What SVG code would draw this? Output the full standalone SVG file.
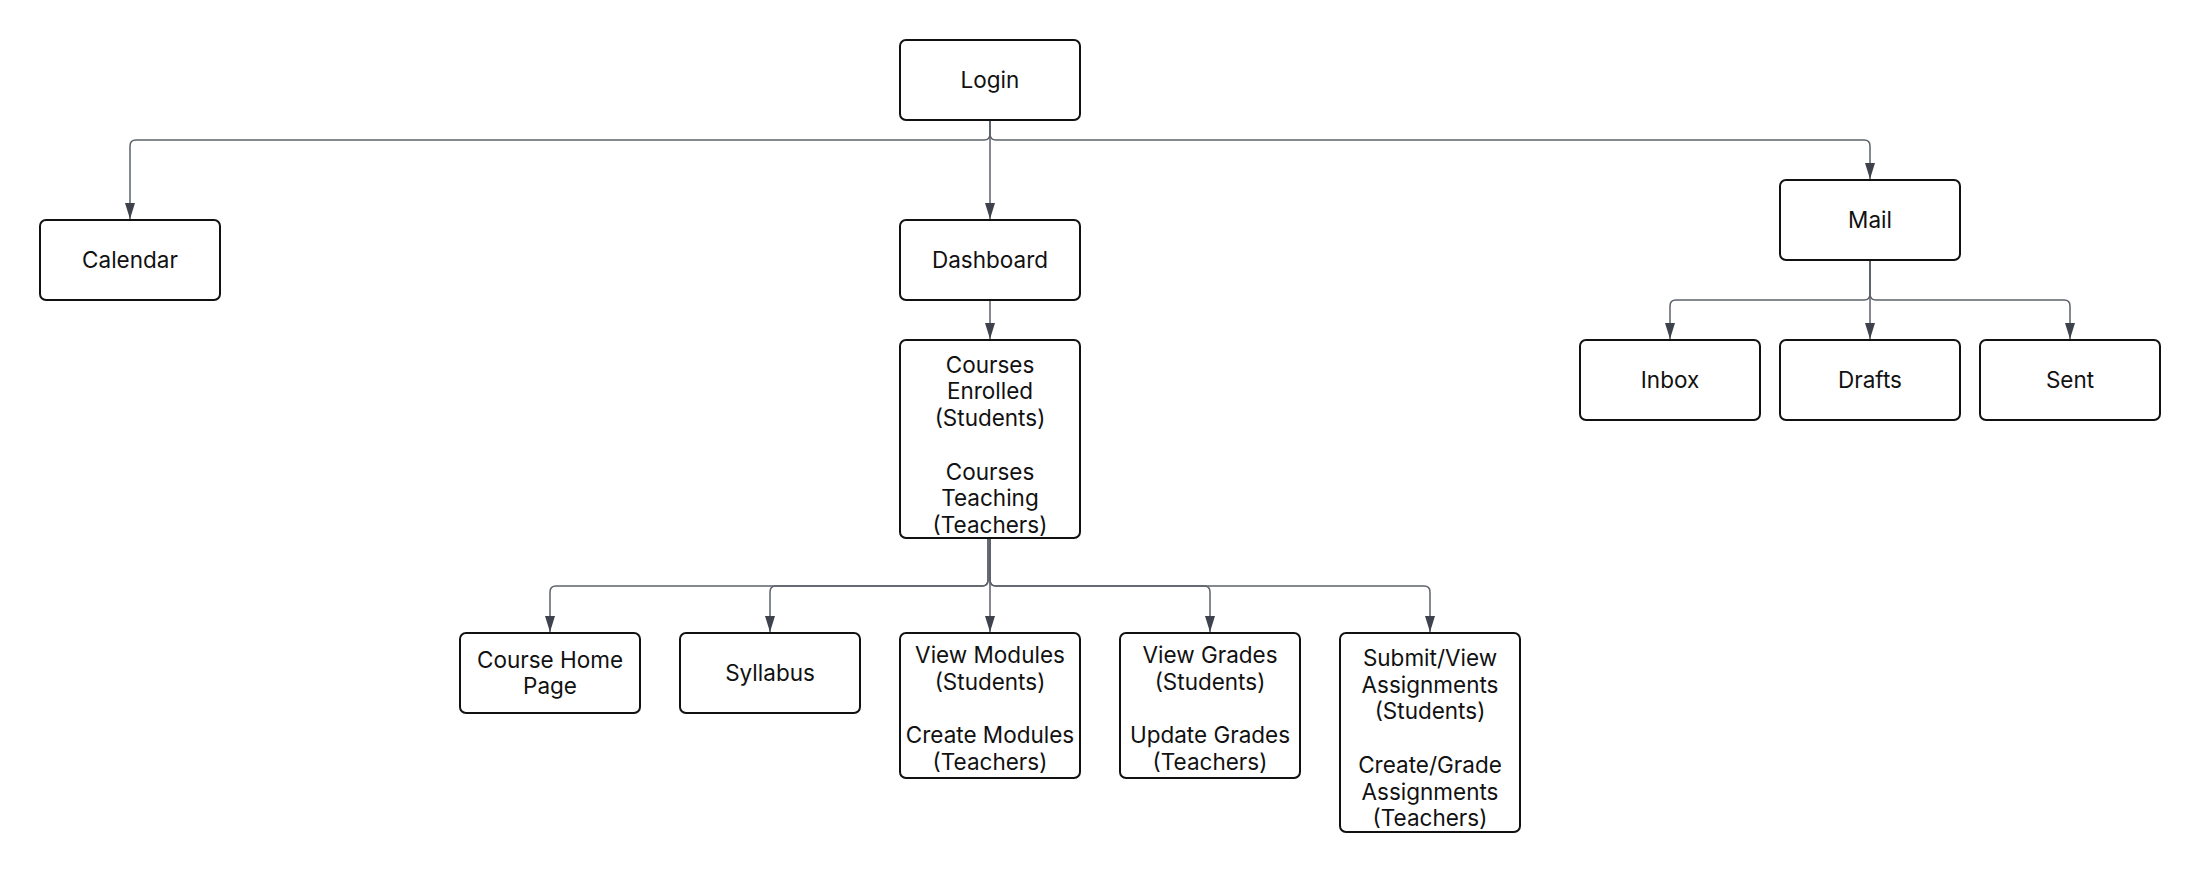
<svg xmlns="http://www.w3.org/2000/svg" width="2200" height="872" viewBox="0 0 2200 872">
<defs>
<marker id="arr" viewBox="0 0 16 10" refX="16" refY="5" markerWidth="16" markerHeight="10" markerUnits="userSpaceOnUse" orient="auto">
<path d="M0,0 L16,5 L0,10 Z" fill="#3d424c"/>
</marker>
<style>
.box{fill:#ffffff;stroke:#111111;stroke-width:2}
.lbl{font-family:Inter,"Noto Sans","Liberation Sans",sans-serif;font-size:22.5px;fill:#111111;text-anchor:middle}
.con{fill:none;stroke:#5c616b;stroke-width:1.5}
</style>
</defs>
<rect width="2200" height="872" fill="#ffffff"/>
<g id="connectors">
<path class="con" d="M990,120 L990,134 Q990,140 984,140 L136,140 Q130,140 130,146 L130,219" marker-end="url(#arr)"/>
<path class="con" d="M990,120 L990,219" marker-end="url(#arr)"/>
<path class="con" d="M990,120 L990,134 Q990,140 996,140 L1864,140 Q1870,140 1870,146 L1870,179" marker-end="url(#arr)"/>
<path class="con" d="M990,300 L990,339" marker-end="url(#arr)"/>
<path class="con" d="M1870,260 L1870,294 Q1870,300 1864,300 L1676,300 Q1670,300 1670,306 L1670,339" marker-end="url(#arr)"/>
<path class="con" d="M1870,260 L1870,339" marker-end="url(#arr)"/>
<path class="con" d="M1870,260 L1870,294 Q1870,300 1876,300 L2064,300 Q2070,300 2070,306 L2070,339" marker-end="url(#arr)"/>
<path class="con" d="M988,538 L988,580 Q988,586 982,586 L556,586 Q550,586 550,592 L550,632" marker-end="url(#arr)"/>
<path class="con" d="M988,538 L988,580 Q988,586 982,586 L776,586 Q770,586 770,592 L770,632" marker-end="url(#arr)"/>
<path class="con" d="M990,538 L990,632" marker-end="url(#arr)"/>
<path class="con" d="M990,538 L990,580 Q990,586 996,586 L1204,586 Q1210,586 1210,592 L1210,632" marker-end="url(#arr)"/>
<path class="con" d="M990,538 L990,580 Q990,586 996,586 L1424,586 Q1430,586 1430,592 L1430,632" marker-end="url(#arr)"/>
</g>
<g id="login"><rect class="box" x="900" y="40" width="180" height="80" rx="6"/><text class="lbl" x="990" y="88">Login</text></g>
<g id="calendar"><rect class="box" x="40" y="220" width="180" height="80" rx="6"/><text class="lbl" x="130" y="268">Calendar</text></g>
<g id="dashboard"><rect class="box" x="900" y="220" width="180" height="80" rx="6"/><text class="lbl" x="990" y="268">Dashboard</text></g>
<g id="mail"><rect class="box" x="1780" y="180" width="180" height="80" rx="6"/><text class="lbl" x="1870" y="228">Mail</text></g>
<g id="inbox"><rect class="box" x="1580" y="340" width="180" height="80" rx="6"/><text class="lbl" x="1670" y="388">Inbox</text></g>
<g id="drafts"><rect class="box" x="1780" y="340" width="180" height="80" rx="6"/><text class="lbl" x="1870" y="388">Drafts</text></g>
<g id="sent"><rect class="box" x="1980" y="340" width="180" height="80" rx="6"/><text class="lbl" x="2070" y="388">Sent</text></g>
<g id="courses"><rect class="box" x="900" y="340" width="180" height="198" rx="6"/>
<text class="lbl" x="990" y="372.7">Courses</text>
<text class="lbl" x="990" y="399.4">Enrolled</text>
<text class="lbl" x="990" y="426.1">(Students)</text>
<text class="lbl" x="990" y="479.5">Courses</text>
<text class="lbl" x="990" y="506.2">Teaching</text>
<text class="lbl" x="990" y="532.9">(Teachers)</text>
</g>
<g id="coursehome"><rect class="box" x="460" y="633" width="180" height="80" rx="6"/>
<text class="lbl" x="550" y="667.7">Course Home</text>
<text class="lbl" x="550" y="694.4">Page</text>
</g>
<g id="syllabus"><rect class="box" x="680" y="633" width="180" height="80" rx="6"/><text class="lbl" x="770" y="681">Syllabus</text></g>
<g id="modules"><rect class="box" x="900" y="633" width="180" height="145" rx="6"/>
<text class="lbl" x="990" y="663">View Modules</text>
<text class="lbl" x="990" y="689.7">(Students)</text>
<text class="lbl" x="990" y="743.1">Create Modules</text>
<text class="lbl" x="990" y="769.8">(Teachers)</text>
</g>
<g id="grades"><rect class="box" x="1120" y="633" width="180" height="145" rx="6"/>
<text class="lbl" x="1210" y="663">View Grades</text>
<text class="lbl" x="1210" y="689.7">(Students)</text>
<text class="lbl" x="1210" y="743.1">Update Grades</text>
<text class="lbl" x="1210" y="769.8">(Teachers)</text>
</g>
<g id="assignments"><rect class="box" x="1340" y="633" width="180" height="199" rx="6"/>
<text class="lbl" x="1430" y="666">Submit/View</text>
<text class="lbl" x="1430" y="692.7">Assignments</text>
<text class="lbl" x="1430" y="719.4">(Students)</text>
<text class="lbl" x="1430" y="772.8">Create/Grade</text>
<text class="lbl" x="1430" y="799.5">Assignments</text>
<text class="lbl" x="1430" y="826.2">(Teachers)</text>
</g>
</svg>
